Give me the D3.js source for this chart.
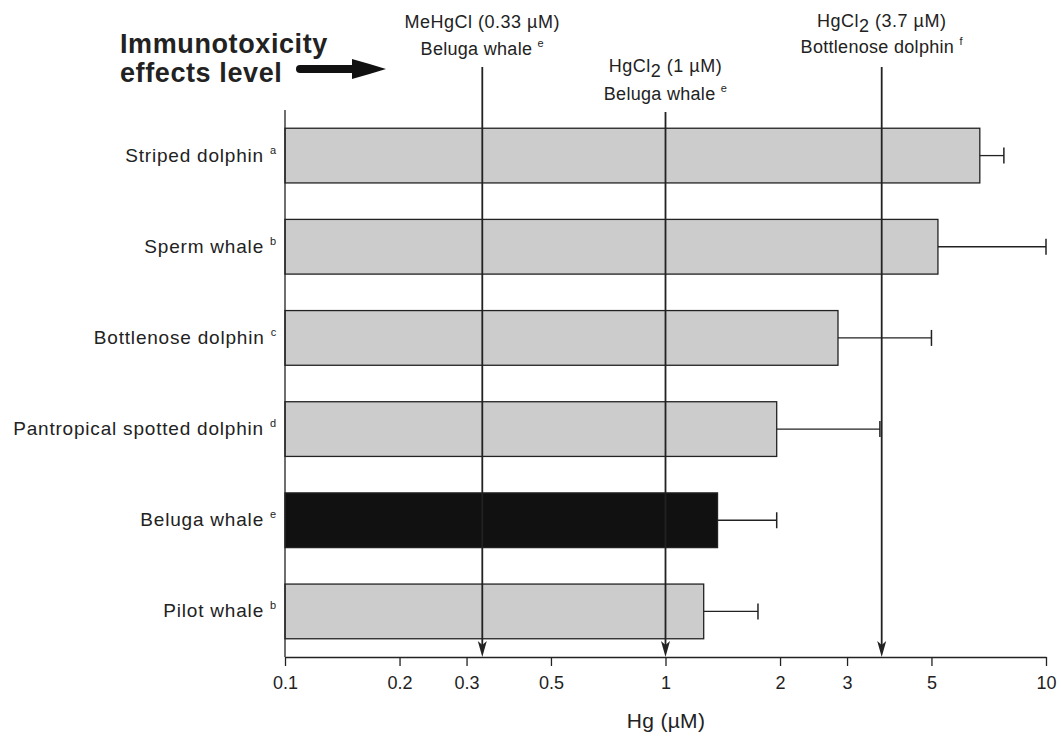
<!DOCTYPE html>
<html><head><meta charset="utf-8">
<script src="https://cdn.jsdelivr.net/npm/d3@7"></script>
<style>body{margin:0;background:#fff;} text{font-family:"Liberation Sans",Arial,sans-serif;fill:#222;}</style>
</head><body>
<svg id="c" width="1061" height="742"></svg>
<script>
const species = ["Striped dolphin","Sperm whale","Bottlenose dolphin","Pantropical spotted dolphin","Beluga whale","Pilot whale"];
const refs = ["a","b","c","d","e","b"];
const means = [6.7, 5.2, 2.84, 1.96, 1.37, 1.26];
const upper = [7.75, 10.0, 5.0, 3.66, 1.96, 1.75];
const highlight = [false,false,false,false,true,false];
const tickValues = [0.1,0.2,0.3,0.5,1,2,3,5,10];
const thrValues = [0.33, 1, 3.7];
const thrCompound = [["MeHgCl",""],["HgCl","2"],["HgCl","2"]];
const thrConc = ["(0.33 µM)","(1 µM)","(3.7 µM)"];
const thrSpecies = ["Beluga whale","Beluga whale","Bottlenose dolphin"];
const thrRefs = ["e","e","f"];

const svg = d3.select("#c");
const x = d3.scaleLog().domain([0.1,10]).range([285,1046]);
const y = d3.scaleBand().domain(species).range([110,657]).paddingInner(0.4).paddingOuter(0.2);

// bars
svg.selectAll("rect.bar").data(species).enter().append("rect")
  .attr("x", x(0.1)).attr("y", d=>y(d))
  .attr("width", (d,i)=>x(means[i])-x(0.1)).attr("height", y.bandwidth())
  .attr("fill", (d,i)=>highlight[i]?"#111":"#cccccc").attr("stroke","#222").attr("stroke-width",1.3);

// error bars
species.forEach((d,i)=>{
  const cy = y(d)+y.bandwidth()/2;
  svg.append("line").attr("x1",x(means[i])).attr("x2",x(upper[i])).attr("y1",cy).attr("y2",cy).attr("stroke","#222").attr("stroke-width",1.3);
  svg.append("line").attr("x1",x(upper[i])).attr("x2",x(upper[i])).attr("y1",cy-8).attr("y2",cy+8).attr("stroke","#222").attr("stroke-width",1.5);
});

// y labels
species.forEach((d,i)=>{
  const t = svg.append("text").attr("x",277).attr("y",y(d)+y.bandwidth()/2+6).attr("text-anchor","end")
    .attr("font-size",19).style("letter-spacing","0.8px");
  t.append("tspan").text(d+" ");
  t.append("tspan").text(refs[i]).attr("font-size",11).attr("dy",-8);
});

// axes
svg.append("line").attr("x1",285).attr("x2",285).attr("y1",110).attr("y2",657).attr("stroke","#222").attr("stroke-width",1.3);
const xa = svg.append("g").attr("transform","translate(0,657)")
  .call(d3.axisBottom(x).tickValues(tickValues).tickFormat(d3.format("")).tickSize(9).tickSizeOuter(0));
xa.select(".domain").attr("stroke","#222").attr("stroke-width",1.3);
xa.selectAll(".tick line").attr("stroke","#222").attr("stroke-width",1.3);
xa.selectAll(".tick text").attr("font-size",18).attr("font-family","Liberation Sans, Arial, sans-serif").attr("fill","#222").attr("y",19).attr("dy","0.71em");
svg.append("text").attr("x",666).attr("y",728).attr("text-anchor","middle").attr("font-size",21).style("letter-spacing","0.3px").text("Hg (µM)");

// thresholds
const lineTop = [67,112,67];
const textY = [[28,55],[72,100],[27,53]];
thrValues.forEach((v,i)=>{
  const xv = x(v);
  svg.append("line").attr("x1",xv).attr("x2",xv).attr("y1",lineTop[i]).attr("y2",650).attr("stroke","#222").attr("stroke-width",1.8);
  svg.append("path").attr("d",`M${xv-4.5},641 L${xv},657 L${xv+4.5},641 L${xv},645 Z`).attr("fill","#222");
  const t1 = svg.append("text").attr("x",xv).attr("y",textY[i][0]).attr("text-anchor","middle").attr("font-size",18).style("letter-spacing","0.5px");
  t1.append("tspan").text(thrCompound[i][0]);
  if (thrCompound[i][1]) t1.append("tspan").text(thrCompound[i][1]).attr("dy",5);
  t1.append("tspan").text(" "+thrConc[i]).attr("dy",thrCompound[i][1]?-5:0);
  const t2 = svg.append("text").attr("x",xv).attr("y",textY[i][1]).attr("text-anchor","middle").attr("font-size",18).style("letter-spacing","0.3px");
  t2.append("tspan").text(thrSpecies[i]+" ");
  t2.append("tspan").text(thrRefs[i]).attr("font-size",11).attr("dy",-8);
});

// title
svg.append("text").attr("x",120).attr("y",53).attr("font-size",27).attr("font-weight","bold").style("letter-spacing","0.6px").text("Immunotoxicity");
svg.append("text").attr("x",120).attr("y",82).attr("font-size",27).attr("font-weight","bold").style("letter-spacing","0.6px").text("effects level");
svg.append("line").attr("x1",300).attr("x2",360).attr("y1",69).attr("y2",69).attr("stroke","#111").attr("stroke-width",8).attr("stroke-linecap","round");
svg.append("path").attr("d","M352,59 Q370,64 386,69 Q370,74 352,79 Z").attr("fill","#111");
</script>
</body></html>
